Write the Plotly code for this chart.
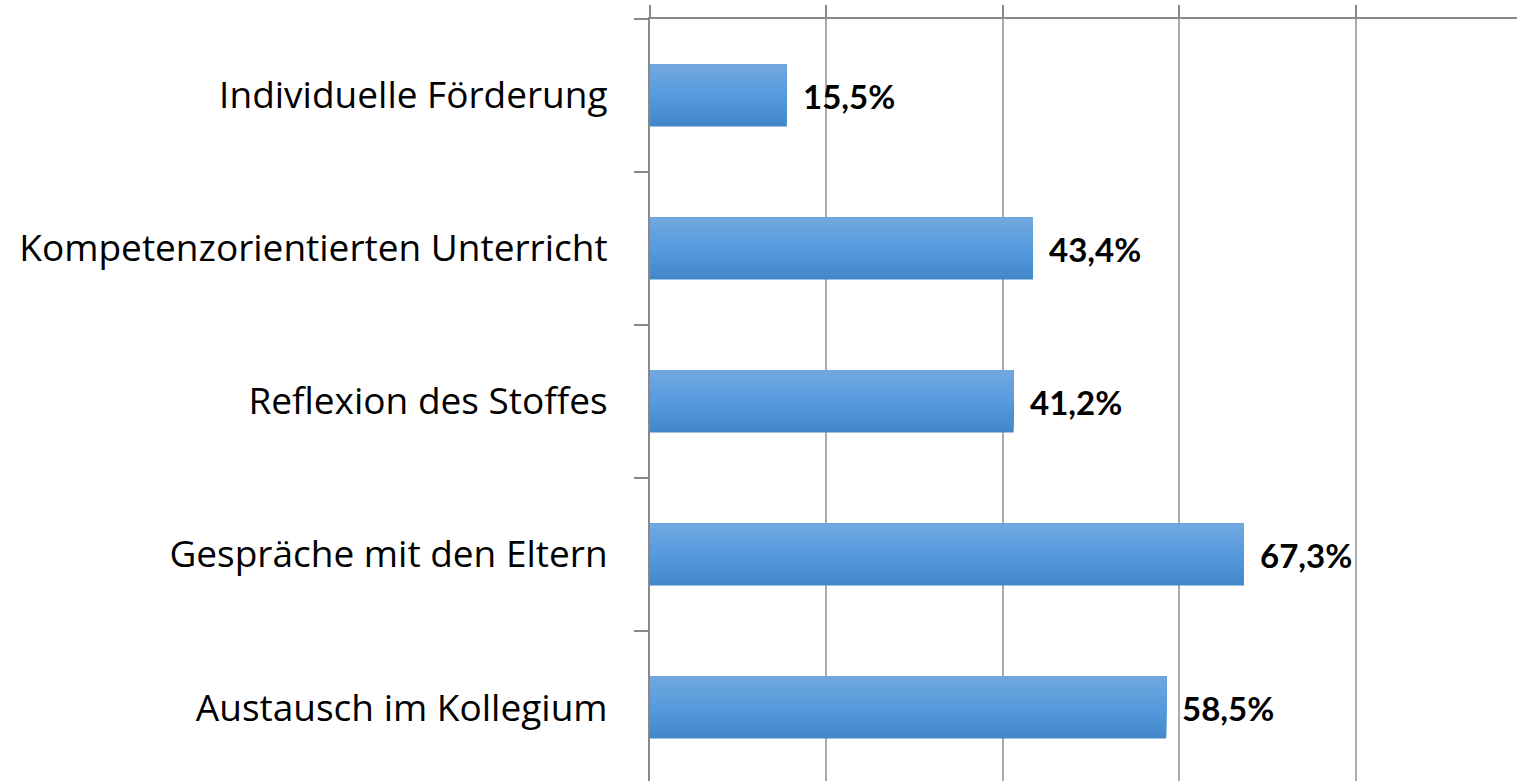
import plotly.graph_objects as go

categories = ["Individuelle Förderung", "Kompetenzorientierten Unterricht",
              "Reflexion des Stoffes", "Gespräche mit den Eltern", "Austausch im Kollegium"]
values = [15.5, 43.4, 41.2, 67.3, 58.5]
labels = ["15,5%", "43,4%", "41,2%", "67,3%", "58,5%"]

BAR_W = 0.405
N_STEPS = 16

def lerp(c1, c2, t):
    return tuple(round(a + (b - a) * t) for a, b in zip(c1, c2))

top_c = (114, 168, 222)
mid_c = (86, 155, 222)
bot_c = (64, 134, 200)

fig = go.Figure()
# gradient effect: stacked overlay bars, darkest full-height first
for i in range(N_STEPS):
    frac = 1 - i / N_STEPS  # portion of bar height from top
    pos = (N_STEPS - i - 0.5) / N_STEPS
    if pos >= 0.5:
        c = lerp(mid_c, bot_c, (pos - 0.5) * 2)
    else:
        c = lerp(top_c, mid_c, pos * 2)
    fig.add_trace(go.Bar(
        x=values, y=categories, orientation="h",
        width=BAR_W * frac, offset=-BAR_W / 2,
        marker=dict(color="rgb(%d,%d,%d)" % c, line=dict(width=0)),
        hoverinfo="skip" if i else "x+y", showlegend=False,
    ))

for cat, v, lab in zip(categories, values, labels):
    fig.add_annotation(x=v, y=cat, text=lab, showarrow=False, xanchor="left",
                       xshift=14, font=dict(family="Lato", size=33, color="black",
                                            weight="bold"))

fig.update_layout(
    template="none",
    width=1517, height=781,
    margin=dict(l=650, r=0, t=19, b=0),
    barmode="overlay",
    plot_bgcolor="white", paper_bgcolor="white",
    font=dict(family="Lato", color="black"),
    xaxis=dict(
        automargin=False,
        side="top", range=[0, 98.25], dtick=20, tick0=0,
        showticklabels=False, ticks="outside", ticklen=12, tickwidth=2,
        tickcolor="#898989", showline=True, linecolor="#898989", linewidth=2,
        showgrid=True, gridcolor="#ababab", gridwidth=2, zeroline=False,
    ),
    yaxis=dict(
        automargin=False,
        autorange=False, range=[4.48, -0.5], type="category",
        tickson="boundaries", ticks="outside", ticklen=14, tickwidth=2,
        tickcolor="#898989", showline=True, linecolor="#898989", linewidth=2,
        showgrid=False, ticklabelstandoff=33,
        tickfont=dict(family="Open Sans", size=37, color="black"),
    ),
)

fig.write_html(
    "out.html",
    config={"displayModeBar": False},
    post_script="document.body.style.margin='0';document.body.style.overflow='hidden';",
)
